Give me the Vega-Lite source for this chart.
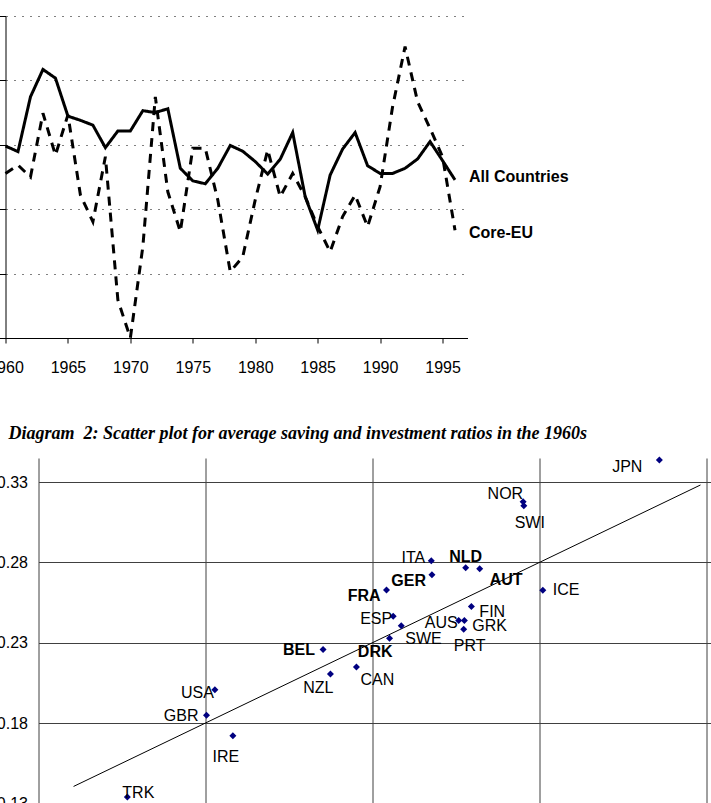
{
  "$schema": "https://vega.github.io/schema/vega-lite/v6.json",
  "padding": {"left": -12.5, "top": 15, "right": 0, "bottom": 0},
  "background": "white",
  "config": {
    "view": {"stroke": null},
    "font": "Liberation Sans",
    "axis": {"labelFont": "Liberation Sans", "labelColor": "black", "labelFontSize": 16}
  },
  "datasets": {
    "coefficients": [
      {"year": 1960, "series": "All Countries", "value": 0.596},
      {"year": 1961, "series": "All Countries", "value": 0.579},
      {"year": 1962, "series": "All Countries", "value": 0.749},
      {"year": 1963, "series": "All Countries", "value": 0.834},
      {"year": 1964, "series": "All Countries", "value": 0.807},
      {"year": 1965, "series": "All Countries", "value": 0.689},
      {"year": 1966, "series": "All Countries", "value": 0.676},
      {"year": 1967, "series": "All Countries", "value": 0.661},
      {"year": 1968, "series": "All Countries", "value": 0.591},
      {"year": 1969, "series": "All Countries", "value": 0.643},
      {"year": 1970, "series": "All Countries", "value": 0.643},
      {"year": 1971, "series": "All Countries", "value": 0.706},
      {"year": 1972, "series": "All Countries", "value": 0.700},
      {"year": 1973, "series": "All Countries", "value": 0.712},
      {"year": 1974, "series": "All Countries", "value": 0.527},
      {"year": 1975, "series": "All Countries", "value": 0.488},
      {"year": 1976, "series": "All Countries", "value": 0.479},
      {"year": 1977, "series": "All Countries", "value": 0.527},
      {"year": 1978, "series": "All Countries", "value": 0.598},
      {"year": 1979, "series": "All Countries", "value": 0.580},
      {"year": 1980, "series": "All Countries", "value": 0.548},
      {"year": 1981, "series": "All Countries", "value": 0.509},
      {"year": 1982, "series": "All Countries", "value": 0.555},
      {"year": 1983, "series": "All Countries", "value": 0.638},
      {"year": 1984, "series": "All Countries", "value": 0.439},
      {"year": 1985, "series": "All Countries", "value": 0.335},
      {"year": 1986, "series": "All Countries", "value": 0.506},
      {"year": 1987, "series": "All Countries", "value": 0.587},
      {"year": 1988, "series": "All Countries", "value": 0.638},
      {"year": 1989, "series": "All Countries", "value": 0.535},
      {"year": 1990, "series": "All Countries", "value": 0.511},
      {"year": 1991, "series": "All Countries", "value": 0.511},
      {"year": 1992, "series": "All Countries", "value": 0.527},
      {"year": 1993, "series": "All Countries", "value": 0.556},
      {"year": 1994, "series": "All Countries", "value": 0.610},
      {"year": 1995, "series": "All Countries", "value": 0.551},
      {"year": 1996, "series": "All Countries", "value": 0.491},
      {"year": 1960, "series": "Core-EU", "value": 0.511},
      {"year": 1961, "series": "Core-EU", "value": 0.537},
      {"year": 1962, "series": "Core-EU", "value": 0.500},
      {"year": 1963, "series": "Core-EU", "value": 0.698},
      {"year": 1964, "series": "Core-EU", "value": 0.568},
      {"year": 1965, "series": "Core-EU", "value": 0.693},
      {"year": 1966, "series": "Core-EU", "value": 0.444},
      {"year": 1967, "series": "Core-EU", "value": 0.361},
      {"year": 1968, "series": "Core-EU", "value": 0.563},
      {"year": 1969, "series": "Core-EU", "value": 0.118},
      {"year": 1970, "series": "Core-EU", "value": 0.000},
      {"year": 1971, "series": "Core-EU", "value": 0.284},
      {"year": 1972, "series": "Core-EU", "value": 0.749},
      {"year": 1973, "series": "Core-EU", "value": 0.454},
      {"year": 1974, "series": "Core-EU", "value": 0.330},
      {"year": 1975, "series": "Core-EU", "value": 0.589},
      {"year": 1976, "series": "Core-EU", "value": 0.589},
      {"year": 1977, "series": "Core-EU", "value": 0.429},
      {"year": 1978, "series": "Core-EU", "value": 0.206},
      {"year": 1979, "series": "Core-EU", "value": 0.252},
      {"year": 1980, "series": "Core-EU", "value": 0.429},
      {"year": 1981, "series": "Core-EU", "value": 0.584},
      {"year": 1982, "series": "Core-EU", "value": 0.439},
      {"year": 1983, "series": "Core-EU", "value": 0.511},
      {"year": 1984, "series": "Core-EU", "value": 0.439},
      {"year": 1985, "series": "Core-EU", "value": 0.346},
      {"year": 1986, "series": "Core-EU", "value": 0.268},
      {"year": 1987, "series": "Core-EU", "value": 0.377},
      {"year": 1988, "series": "Core-EU", "value": 0.444},
      {"year": 1989, "series": "Core-EU", "value": 0.346},
      {"year": 1990, "series": "Core-EU", "value": 0.470},
      {"year": 1991, "series": "Core-EU", "value": 0.718},
      {"year": 1992, "series": "Core-EU", "value": 0.905},
      {"year": 1993, "series": "Core-EU", "value": 0.734},
      {"year": 1994, "series": "Core-EU", "value": 0.651},
      {"year": 1995, "series": "Core-EU", "value": 0.563},
      {"year": 1996, "series": "Core-EU", "value": 0.335}
    ],
    "countries": [
      {"country": "JPN", "saving": 0.3159, "investment": 0.3437, "core": false},
      {"country": "NOR", "saving": 0.2751, "investment": 0.3177, "core": false},
      {"country": "SWI", "saving": 0.2753, "investment": 0.3152, "core": false},
      {"country": "ITA", "saving": 0.2476, "investment": 0.2810, "core": false},
      {"country": "NLD", "saving": 0.2579, "investment": 0.2766, "core": true},
      {"country": "AUT", "saving": 0.2621, "investment": 0.2760, "core": true},
      {"country": "GER", "saving": 0.2478, "investment": 0.2723, "core": true},
      {"country": "FRA", "saving": 0.2342, "investment": 0.2628, "core": true},
      {"country": "ICE", "saving": 0.2810, "investment": 0.2626, "core": false},
      {"country": "FIN", "saving": 0.2596, "investment": 0.2526, "core": false},
      {"country": "AUS", "saving": 0.2558, "investment": 0.2439, "core": false},
      {"country": "GRK", "saving": 0.2575, "investment": 0.2439, "core": false},
      {"country": "PRT", "saving": 0.2573, "investment": 0.2383, "core": false},
      {"country": "ESP", "saving": 0.2362, "investment": 0.2464, "core": false},
      {"country": "SWE", "saving": 0.2386, "investment": 0.2405, "core": false},
      {"country": "DRK", "saving": 0.2351, "investment": 0.2327, "core": true},
      {"country": "CAN", "saving": 0.2252, "investment": 0.2148, "core": false},
      {"country": "BEL", "saving": 0.2152, "investment": 0.2258, "core": true},
      {"country": "NZL", "saving": 0.2174, "investment": 0.2105, "core": false},
      {"country": "USA", "saving": 0.1828, "investment": 0.2007, "core": false},
      {"country": "GBR", "saving": 0.1803, "investment": 0.1849, "core": false},
      {"country": "IRE", "saving": 0.1882, "investment": 0.1720, "core": false},
      {"country": "TRK", "saving": 0.1566, "investment": 0.1340, "core": false}
    ],
    "diagonal": [
      {"saving": 0.1405, "investment": 0.1405},
      {"saving": 0.3282, "investment": 0.3282}
    ]
  },
  "vconcat": [
    {
      "width": 462,
      "height": 322,
      "data": {"name": "coefficients"},
      "encoding": {
        "x": {
          "field": "year", "type": "quantitative",
          "scale": {"domain": [1960, 1997], "nice": false, "zero": false},
          "axis": {
            "title": null, "grid": false, "format": "d",
            "values": [1960, 1965, 1970, 1975, 1980, 1985, 1990, 1995],
            "domainColor": "black", "tickColor": "black", "tickSize": 5,
            "labelPadding": 16, "labelFlush": false, "labelOverlap": false
          }
        },
        "y": {
          "field": "value", "type": "quantitative",
          "scale": {"domain": [0, 1], "nice": false, "zero": false},
          "axis": {
            "title": null, "labels": false,
            "values": [0, 0.2, 0.4, 0.6, 0.8, 1.0],
            "grid": true, "gridColor": "#808080", "gridDash": [2, 6],
            "domainColor": "black", "tickColor": "black", "tickSize": 9
          }
        }
      },
      "layer": [
        {
          "mark": {"type": "line", "color": "black", "strokeWidth": 3},
          "encoding": {
            "detail": {"field": "series", "type": "nominal"},
            "strokeDash": {
              "field": "series", "type": "nominal",
              "scale": {"domain": ["All Countries", "Core-EU"], "range": [[1, 0], [9, 7]]},
              "legend": null
            }
          }
        },
        {
          "transform": [{"filter": "datum.year === 1996 && datum.series === 'All Countries'"}],
          "mark": {"type": "text", "align": "left", "baseline": "middle", "dx": 14, "dy": -3,
                   "font": "Liberation Sans", "fontSize": 16, "fontWeight": "bold", "color": "black"},
          "encoding": {"text": {"field": "series"}}
        },
        {
          "transform": [{"filter": "datum.year === 1996 && datum.series === 'Core-EU'"}],
          "mark": {"type": "text", "align": "left", "baseline": "middle", "dx": 14, "dy": 3,
                   "font": "Liberation Sans", "fontSize": 16, "fontWeight": "bold", "color": "black"},
          "encoding": {"text": {"field": "series"}}
        }
      ]
    },
    {
      "hconcat": [
        {
          "width": 32.5,
          "height": 10,
          "data": {"values": [{}]},
          "mark": {"type": "point", "opacity": 0}
        },
        {
          "width": 734.8,
          "height": 393.5,
          "title": {
            "text": "Diagram\u00a0 2: Scatter plot for average saving and investment ratios in the 1960s",
            "anchor": "start", "frame": "group", "dx": -30, "offset": 0, "baseline": "alphabetic",
            "font": "Liberation Serif", "fontSize": 18, "fontWeight": "bold", "fontStyle": "italic",
            "color": "black"
          },
          "encoding": {
            "x": {
              "field": "saving", "type": "quantitative",
              "scale": {"domain": [0.13, 0.35], "nice": false, "zero": false},
              "axis": {
                "title": null, "format": ".2f", "values": [0.13, 0.18, 0.23, 0.28, 0.33],
                "grid": true, "gridColor": "#404040", "gridOpacity": 1,
                "domain": false, "ticks": false, "labelPadding": 8
              }
            },
            "y": {
              "field": "investment", "type": "quantitative",
              "scale": {"domain": [0.10, 0.345], "nice": false, "zero": false},
              "axis": {
                "title": null, "format": ".2f", "values": [0.13, 0.18, 0.23, 0.28, 0.33],
                "grid": true, "gridColor": "#404040", "gridOpacity": 1,
                "domain": false, "ticks": false, "labelPadding": 11
              }
            }
          },
          "layer": [
            {
              "data": {"name": "diagonal"},
              "mark": {"type": "line", "color": "black", "strokeWidth": 1}
            },
            {
              "data": {"name": "countries"},
              "mark": {"type": "point", "shape": "diamond", "filled": true, "size": 49, "color": "#000080", "opacity": 1}
            },
            {
              "data": {"name": "countries"},
              "transform": [{"filter": {"field": "country", "oneOf": ["BEL", "GBR"]}}],
              "mark": {"type": "text", "align": "right", "baseline": "middle", "dx": -8, "dy": 1, "fontSize": 16, "color": "black", "fontWeight": {"expr": "datum.core ? 'bold' : 'normal'"}},
              "encoding": {"text": {"field": "country"}}
            },
            {
              "data": {"name": "countries"},
              "transform": [{"filter": {"field": "country", "oneOf": ["ITA"]}}],
              "mark": {"type": "text", "align": "right", "baseline": "middle", "dx": -6, "dy": -3, "fontSize": 16, "color": "black", "fontWeight": {"expr": "datum.core ? 'bold' : 'normal'"}},
              "encoding": {"text": {"field": "country"}}
            },
            {
              "data": {"name": "countries"},
              "transform": [{"filter": {"field": "country", "oneOf": ["AUS", "ESP", "USA"]}}],
              "mark": {"type": "text", "align": "right", "baseline": "middle", "dx": -1, "dy": 3, "fontSize": 16, "color": "black", "fontWeight": {"expr": "datum.core ? 'bold' : 'normal'"}},
              "encoding": {"text": {"field": "country"}}
            },
            {
              "data": {"name": "countries"},
              "transform": [{"filter": {"field": "country", "oneOf": ["GER", "FRA"]}}],
              "mark": {"type": "text", "align": "right", "baseline": "middle", "dx": -6, "dy": 6, "fontSize": 16, "color": "black", "fontWeight": {"expr": "datum.core ? 'bold' : 'normal'"}},
              "encoding": {"text": {"field": "country"}}
            },
            {
              "data": {"name": "countries"},
              "transform": [{"filter": {"field": "country", "oneOf": ["JPN"]}}],
              "mark": {"type": "text", "align": "right", "baseline": "middle", "dx": -17, "dy": 7, "fontSize": 16, "color": "black", "fontWeight": {"expr": "datum.core ? 'bold' : 'normal'"}},
              "encoding": {"text": {"field": "country"}}
            },
            {
              "data": {"name": "countries"},
              "transform": [{"filter": {"field": "country", "oneOf": ["NOR"]}}],
              "mark": {"type": "text", "align": "right", "baseline": "middle", "dx": 0, "dy": -8, "fontSize": 16, "color": "black", "fontWeight": {"expr": "datum.core ? 'bold' : 'normal'"}},
              "encoding": {"text": {"field": "country"}}
            },
            {
              "data": {"name": "countries"},
              "transform": [{"filter": {"field": "country", "oneOf": ["DRK", "NZL"]}}],
              "mark": {"type": "text", "align": "right", "baseline": "middle", "dx": 3, "dy": 14, "fontSize": 16, "color": "black", "fontWeight": {"expr": "datum.core ? 'bold' : 'normal'"}},
              "encoding": {"text": {"field": "country"}}
            },
            {
              "data": {"name": "countries"},
              "transform": [{"filter": {"field": "country", "oneOf": ["ICE"]}}],
              "mark": {"type": "text", "align": "left", "baseline": "middle", "dx": 10, "dy": 0, "fontSize": 16, "color": "black", "fontWeight": {"expr": "datum.core ? 'bold' : 'normal'"}},
              "encoding": {"text": {"field": "country"}}
            },
            {
              "data": {"name": "countries"},
              "transform": [{"filter": {"field": "country", "oneOf": ["FIN", "GRK"]}}],
              "mark": {"type": "text", "align": "left", "baseline": "middle", "dx": 8, "dy": 6, "fontSize": 16, "color": "black", "fontWeight": {"expr": "datum.core ? 'bold' : 'normal'"}},
              "encoding": {"text": {"field": "country"}}
            },
            {
              "data": {"name": "countries"},
              "transform": [{"filter": {"field": "country", "oneOf": ["AUT"]}}],
              "mark": {"type": "text", "align": "left", "baseline": "middle", "dx": 10, "dy": 11, "fontSize": 16, "color": "black", "fontWeight": {"expr": "datum.core ? 'bold' : 'normal'"}},
              "encoding": {"text": {"field": "country"}}
            },
            {
              "data": {"name": "countries"},
              "transform": [{"filter": {"field": "country", "oneOf": ["SWE", "CAN"]}}],
              "mark": {"type": "text", "align": "left", "baseline": "middle", "dx": 4, "dy": 13, "fontSize": 16, "color": "black", "fontWeight": {"expr": "datum.core ? 'bold' : 'normal'"}},
              "encoding": {"text": {"field": "country"}}
            },
            {
              "data": {"name": "countries"},
              "transform": [{"filter": {"field": "country", "oneOf": ["TRK"]}}],
              "mark": {"type": "text", "align": "left", "baseline": "middle", "dx": -5, "dy": -4, "fontSize": 16, "color": "black", "fontWeight": {"expr": "datum.core ? 'bold' : 'normal'"}},
              "encoding": {"text": {"field": "country"}}
            },
            {
              "data": {"name": "countries"},
              "transform": [{"filter": {"field": "country", "oneOf": ["SWI", "PRT"]}}],
              "mark": {"type": "text", "align": "center", "baseline": "middle", "dx": 6, "dy": 17, "fontSize": 16, "color": "black", "fontWeight": {"expr": "datum.core ? 'bold' : 'normal'"}},
              "encoding": {"text": {"field": "country"}}
            },
            {
              "data": {"name": "countries"},
              "transform": [{"filter": {"field": "country", "oneOf": ["IRE"]}}],
              "mark": {"type": "text", "align": "center", "baseline": "middle", "dx": -7, "dy": 21, "fontSize": 16, "color": "black", "fontWeight": {"expr": "datum.core ? 'bold' : 'normal'"}},
              "encoding": {"text": {"field": "country"}}
            },
            {
              "data": {"name": "countries"},
              "transform": [{"filter": {"field": "country", "oneOf": ["NLD"]}}],
              "mark": {"type": "text", "align": "center", "baseline": "middle", "dx": 0, "dy": -11, "fontSize": 16, "color": "black", "fontWeight": {"expr": "datum.core ? 'bold' : 'normal'"}},
              "encoding": {"text": {"field": "country"}}
            }
          ]
        }
      ],
      "spacing": 0,
      "bounds": "flush"
    }
  ],
  "spacing": 120,
  "bounds": "flush"
}
